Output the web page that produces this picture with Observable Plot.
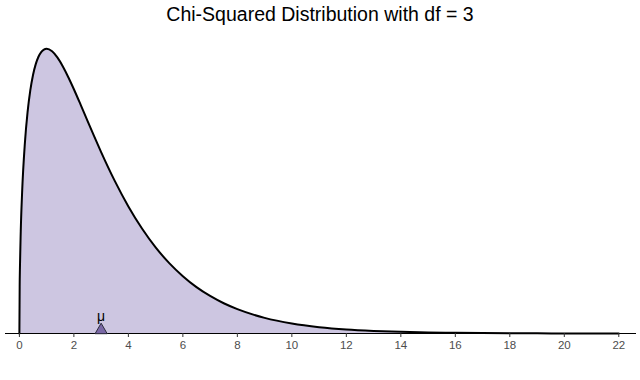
<!DOCTYPE html>
<html>
<head>
<meta charset="utf-8">
<script src="https://cdn.jsdelivr.net/npm/d3@7"></script>
<script src="https://cdn.jsdelivr.net/npm/@observablehq/plot@0.6"></script>
<style>
  html, body { margin: 0; padding: 0; background: #fff; }
  #title { font-family: "Liberation Sans", Arial, Helvetica, sans-serif; font-size: 19.5px; color: #000;
           text-align: center; height: 30px; line-height: 28px; width: 640px; }
  #chart svg { display: block; }
</style>
</head>
<body>
<div id="title">Chi-Squared Distribution with df = 3</div>
<div id="chart"></div>
<script>
// x values and density values
const xs = [0, 0.01, 0.02, 0.05, 0.1, 0.2, 0.3, 0.4, 0.5, 0.6, 0.7, 0.8, 0.9, 1.0,
  1.2, 1.4, 1.6, 1.8, 2.0, 2.25, 2.5, 2.75, 3, 3.5, 4, 4.5, 5, 5.5, 6, 6.5, 7, 7.5, 8,
  9, 10, 11, 12, 13, 14, 15, 16, 17, 18, 19, 20, 21, 22];
const density = [0, 0.0397, 0.0559, 0.0870, 0.1200, 0.1614, 0.1881, 0.2066, 0.2197, 0.2289, 0.2352, 0.2392, 0.2413, 0.2420,
  0.2398, 0.2344, 0.2267, 0.2176, 0.2076, 0.1943, 0.1807, 0.1673, 0.1542, 0.1297, 0.1080, 0.0892, 0.0732, 0.0598, 0.0487, 0.0394, 0.0319, 0.0257, 0.0207,
  0.0133, 0.0085, 0.0054, 0.0034, 0.0022, 0.0014, 0.00085, 0.00054, 0.00033, 0.00021, 0.00013, 0.00008, 0.00005, 0.00003];
const xTicks = [0, 2, 4, 6, 8, 10, 12, 14, 16, 18, 20, 22];
const meanValue = [3];
const meanLabel = ["μ"];

const data = xs.map((x, i) => ({x, y: density[i]}));
const meanData = meanValue.map((m, i) => ({x: m, y: 0, label: meanLabel[i]}));

const chart = Plot.plot({
  width: 640,
  height: 350,
  marginTop: 4,
  marginBottom: 47,
  marginLeft: 5,
  marginRight: 4,
  style: {fontFamily: "'Liberation Sans', Arial, Helvetica, sans-serif", background: "#fff"},
  x: {domain: [-0.51, 22.65], ticks: xTicks, tickSize: 4, tickPadding: 3, label: null},
  y: {domain: [0, 0.2541], axis: null},
  marks: [
    Plot.areaY(data, {x: "x", y: "y", fill: "#cdc6e1", curve: "monotone-x"}),
    Plot.ruleY([0], {stroke: "#000", strokeWidth: 1}),
    Plot.lineY(data, {x: "x", y: "y", stroke: "#000", strokeWidth: 2, curve: "monotone-x"}),
    Plot.dot(meanData, {x: "x", y: "y", symbol: "triangle", r: 4.5, dy: -3.3, fill: "#7a68a6", stroke: "#2a2a3a", strokeWidth: 1}),
    Plot.text(meanData, {x: "x", y: "y", text: "label", dy: -17, fontSize: 14, fill: "#000"}),
    Plot.axisX({ticks: xTicks, tickSize: 4, tickPadding: 3, fontSize: 11.5, color: "#4d4d4d", stroke: "#333", label: null})
  ]
});
document.getElementById("chart").appendChild(chart);
</script>
</body>
</html>
